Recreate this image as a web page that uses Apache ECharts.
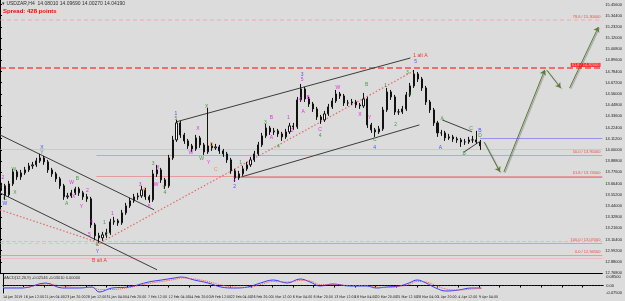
<!DOCTYPE html>
<html>
<head>
<meta charset="utf-8">
<script src="https://cdn.jsdelivr.net/npm/echarts@6/dist/echarts.min.js"></script>
<style>
  html, body { margin: 0; padding: 0; background: #dcdcdc; }
  #chart { width: 625px; height: 301px; }
</style>
</head>
<body>
<div id="chart"></div>
<script>
// time is counted in H4 bars; one label every 16 bars
const tickLabels = ['14 Jan 2019', '16 Jan 12:00', '21 Jan 04:00', '23 Jan 20:00', '28 Jan 12:00', '31 Jan 04:00',
  '4 Feb 20:00', '7 Feb 12:00', '12 Feb 04:00', '14 Feb 20:00', '19 Feb 12:00', '22 Feb 04:00',
  '26 Feb 20:00', '1 Mar 12:00', '6 Mar 04:00', '8 Mar 20:00', '13 Mar 12:00', '18 Mar 04:00',
  '20 Mar 20:00', '25 Mar 12:00', '28 Mar 04:00', '1 Apr 20:00', '4 Apr 12:00', '9 Apr 04:00'];

// price, one candle per 3 H4 bars
const candleOpen = [13.62, 13.64, 13.55, 13.66, 13.78, 13.73, 13.77, 13.80, 13.84, 13.85, 13.89, 13.92, 13.88, 13.80, 13.76, 13.71,
  13.64, 13.53, 13.54, 13.57, 13.61, 13.57, 13.53, 13.51, 13.25, 13.14, 13.12, 13.15, 13.17, 13.28, 13.29, 13.27,
  13.37, 13.44, 13.49, 13.53, 13.54, 13.60, 13.53, 13.50, 13.76, 13.80, 13.70, 13.64, 13.92, 14.10, 14.27, 14.15,
  14.09, 14.04, 14.01, 14.12, 14.05, 13.98, 14.04, 14.02, 14.03, 13.99, 13.96, 13.90, 13.79, 13.72, 13.76, 13.81,
  13.85, 13.90, 13.96, 14.05, 14.14, 14.22, 14.18, 14.19, 14.16, 14.13, 14.18, 14.24, 14.23, 14.50, 14.61, 14.51,
  14.46, 14.41, 14.33, 14.30, 14.36, 14.43, 14.49, 14.56, 14.54, 14.47, 14.47, 14.48, 14.45, 14.44, 14.51, 14.25,
  14.20, 14.18, 14.21, 14.40, 14.58, 14.53, 14.38, 14.38, 14.41, 14.55, 14.64, 14.76, 14.71, 14.62, 14.48, 14.40,
  14.27, 14.17, 14.17, 14.12, 14.13, 14.11, 14.10, 14.08, 14.08, 14.10, 14.10, 14.08];
const candleClose = [13.64, 13.55, 13.66, 13.78, 13.73, 13.77, 13.80, 13.84, 13.85, 13.89, 13.92, 13.88, 13.80, 13.76, 13.71, 13.64,
  13.53, 13.54, 13.57, 13.61, 13.57, 13.53, 13.51, 13.25, 13.14, 13.12, 13.15, 13.17, 13.28, 13.29, 13.27, 13.37,
  13.44, 13.49, 13.53, 13.54, 13.60, 13.53, 13.50, 13.76, 13.80, 13.70, 13.64, 13.92, 14.10, 14.27, 14.15, 14.09,
  14.04, 14.01, 14.12, 14.05, 13.98, 14.04, 14.02, 14.03, 13.99, 13.96, 13.90, 13.79, 13.72, 13.76, 13.81, 13.85,
  13.90, 13.96, 14.05, 14.14, 14.22, 14.18, 14.19, 14.16, 14.13, 14.18, 14.24, 14.23, 14.50, 14.61, 14.51, 14.46,
  14.41, 14.33, 14.30, 14.36, 14.43, 14.49, 14.56, 14.54, 14.47, 14.47, 14.48, 14.45, 14.44, 14.51, 14.25, 14.20,
  14.18, 14.21, 14.40, 14.58, 14.53, 14.38, 14.38, 14.41, 14.55, 14.64, 14.76, 14.71, 14.62, 14.48, 14.40, 14.27,
  14.17, 14.17, 14.12, 14.13, 14.11, 14.10, 14.08, 14.08, 14.10, 14.10, 14.08, 14.04];
const candleLow = [13.59, 13.50, 13.53, 13.64, 13.70, 13.70, 13.75, 13.78, 13.81, 13.83, 13.87, 13.85, 13.77, 13.73, 13.68, 13.61,
  13.50, 13.51, 13.52, 13.55, 13.54, 13.50, 13.48, 13.22, 13.10, 13.07, 13.09, 13.12, 13.15, 13.25, 13.24, 13.25,
  13.35, 13.42, 13.47, 13.50, 13.52, 13.50, 13.47, 13.48, 13.73, 13.67, 13.61, 13.62, 13.90, 14.08, 14.12, 14.06,
  14.01, 13.98, 13.99, 14.02, 13.95, 13.96, 13.99, 14.00, 13.96, 13.93, 13.87, 13.76, 13.68, 13.70, 13.74, 13.79,
  13.83, 13.88, 13.94, 14.03, 14.12, 14.15, 14.15, 14.13, 14.09, 14.11, 14.16, 14.20, 14.21, 14.48, 14.48, 14.43,
  14.38, 14.30, 14.26, 14.28, 14.34, 14.41, 14.47, 14.51, 14.44, 14.44, 14.45, 14.42, 14.41, 14.42, 14.22, 14.17,
  14.13, 14.16, 14.19, 14.38, 14.50, 14.35, 14.35, 14.36, 14.39, 14.53, 14.62, 14.68, 14.59, 14.45, 14.37, 14.24,
  14.13, 14.14, 14.09, 14.10, 14.08, 14.07, 14.03, 14.05, 14.06, 14.07, 14.06, 14.00];
const candleHigh = [13.67, 13.66, 13.69, 13.81, 13.80, 13.80, 13.83, 13.87, 13.88, 13.92, 13.96, 13.94, 13.90, 13.82, 13.78, 13.73,
  13.66, 13.57, 13.60, 13.63, 13.63, 13.59, 13.56, 13.53, 13.27, 13.17, 13.18, 13.21, 13.31, 13.33, 13.31, 13.40,
  13.47, 13.52, 13.56, 13.57, 13.64, 13.62, 13.55, 13.80, 13.85, 13.82, 13.72, 13.95, 14.14, 14.30, 14.29, 14.17,
  14.11, 14.06, 14.15, 14.14, 14.07, 14.42, 14.07, 14.06, 14.05, 14.01, 13.98, 13.92, 13.81, 13.79, 13.84, 13.88,
  13.93, 13.99, 14.08, 14.17, 14.26, 14.24, 14.22, 14.21, 14.18, 14.21, 14.27, 14.27, 14.53, 14.66, 14.63, 14.53,
  14.48, 14.43, 14.35, 14.39, 14.46, 14.52, 14.60, 14.58, 14.56, 14.50, 14.51, 14.50, 14.47, 14.57, 14.53, 14.27,
  14.22, 14.24, 14.43, 14.62, 14.60, 14.55, 14.41, 14.44, 14.58, 14.67, 14.80, 14.78, 14.73, 14.64, 14.50, 14.42,
  14.29, 14.20, 14.19, 14.16, 14.15, 14.13, 14.12, 14.11, 14.13, 14.14, 14.19, 14.10];

// MACD panel
const macdTime = [0, 15.3, 32.9, 45.9, 59.0, 68.9, 74.3, 84.2, 97.2, 112.6, 122.5, 132.5, 137.8, 147.8, 158.5, 168.5,
  178.4, 189.1, 199.1, 209.0, 219.8, 229.7, 237.4, 245.0, 255.0, 268.0, 281.0, 288.7, 296.3, 306.3, 313.9, 320.1,
  327.0, 334.6, 342.3, 352.2, 362.2, 369.8];
const macdMain = [-0.025, -0.025, 0.025, -0.025, -0.025, -0.015, -0.065, -0.025, -0.015, 0.035, 0.055, 0.075, 0.085, 0.055, 0.025, -0.015,
  -0.025, -0.015, 0.025, 0.055, 0.025, 0.065, 0.035, -0.005, 0.015, -0.005, -0.005, -0.025, -0.015, -0.005, 0.025, 0.055,
  0.025, -0.025, -0.055, -0.045, -0.025, -0.025];
const macdSignal = [-0.02, -0.02, 0.015, -0.005, -0.02, -0.02, -0.04, -0.04, -0.02, 0.02, 0.04, 0.06, 0.075, 0.065, 0.04, 0.005,
  -0.015, -0.02, 0.01, 0.04, 0.035, 0.05, 0.045, 0.01, 0.01, 0, 0, -0.015, -0.02, -0.01, 0.01, 0.04,
  0.035, 0, -0.035, -0.045, -0.035, -0.03];
const macdTicks = [0.085, 0, -0.075];
const macdTickText = ['0.08500', '0.00', '-0.07500'];

// fibonacci levels
const fibLevels = [15.30, 14.82, 13.95, 13.74, 13.07, 12.945];
const fibNames = ['78.6', '61.8', '50.0', '61.8', '100.0', '0.0'];
const fibFrom = [0, 0, 74.3, 74.3, 74.3, 0];

// other horizontal lines: price, from, to
const hLines = [[14.12, 369.8, 464], [14.01, 0, 464], [13.73, 180, 464], [13.09, 0, 464], [13.07, 0, 74.3], [12.915, 0, 464]];

const trendLines = [
  [[0, 14.15], [118.7, 13.40]],
  [[0, 13.57], [121.0, 12.80]],
  [[135.5, 14.28], [316.2, 14.92]],
  [[186.1, 13.73], [323.1, 14.25]],
  [[340.7, 14.30], [363.7, 14.18]],
  [[357.6, 13.98], [369.1, 14.08]]
];
const dottedLines = [
  [[0, 13.40], [74.3, 13.08]],
  [[74.3, 13.05], [320.1, 14.80]]
];
const projection = [
  [[372.9, 14.08], [385.1, 13.78]],
  [[388.2, 13.78], [419.6, 14.80]],
  [[421.1, 14.80], [431.9, 14.62]],
  [[438.8, 14.62], [461.0, 15.23]]
];

// wave marks: time, price, text, degree
const waveLabels = [
  [3.8, 13.46, 'W', 'blue'], [3.8, 13.51, 'C', 'green'], [2.3, 13.72, '2', 'pink'],
  [10.7, 13.80, 'W', 'green'], [11.5, 13.57, 'X', 'green'],
  [32.2, 14.02, 'X', 'blue'], [32.2, 13.97, 'Y', 'green'],
  [51.3, 13.46, 'A', 'green'], [55.1, 13.67, 'W', 'pink'], [59.7, 13.71, 'B', 'green'],
  [56.7, 13.53, 'X', 'pink'], [62.8, 13.43, 'Y', 'pink'], [67.4, 13.59, '2', 'pink'],
  [70.4, 13.28, '4', 'pink'], [68.9, 13.15, '5', 'pink'],
  [75.0, 13.05, 'C', 'green'], [75.0, 12.98, 'Y', 'blue'], [76.6, 12.89, 'B alt A', 'red'],
  [80.4, 13.27, '1', 'green'], [81.9, 13.15, '2', 'green'], [86.5, 13.36, '1', 'pink'],
  [108.0, 13.65, '3', 'pink'], [111.0, 13.60, '4', 'orange'], [114.9, 13.43, '5', 'pink'],
  [117.9, 13.86, '3', 'green'], [121.7, 13.82, 'X', 'pink'], [120.2, 13.65, 'W', 'pink'],
  [126.3, 13.62, 'Y', 'green'], [127.1, 13.57, '4', 'green'],
  [135.5, 14.36, '1', 'blue'], [135.5, 14.31, '5', 'green'],
  [147.0, 13.97, 'W', 'pink'], [152.4, 14.21, 'X', 'pink'], [159.3, 14.43, 'X', 'green'],
  [155.4, 13.91, 'W', 'green'], [160.8, 13.87, 'Y', 'pink'], [163.1, 14.05, 'B', 'orange'],
  [166.2, 13.80, 'C', 'orange'],
  [180.7, 13.70, '2', 'pink'], [180.7, 13.63, '2', 'blue'], [185.3, 13.87, '1', 'green'],
  [204.4, 14.27, '3', 'green'], [209.0, 14.32, 'B', 'pink'], [209.0, 14.12, 'A', 'pink'],
  [214.4, 14.03, '4', 'green'], [222.1, 14.32, '1', 'pink'], [225.1, 14.19, '2', 'pink'],
  [232.8, 14.75, '3', 'blue'], [232.8, 14.70, '5', 'pink'], [231.2, 14.50, '4', 'pink'],
  [237.4, 14.52, 'B', 'pink'], [233.5, 14.38, 'A', 'pink'], [246.6, 14.20, 'C', 'pink'],
  [246.6, 14.14, '4', 'green'], [260.3, 14.62, 'W', 'pink'], [277.2, 14.35, 'X', 'pink'],
  [282.5, 14.65, 'B', 'green'], [284.8, 14.32, 'Y', 'pink'], [288.7, 14.10, 'C', 'green'],
  [288.7, 14.02, '4', 'blue'], [297.1, 14.64, '1', 'green'], [304.7, 14.25, '2', 'green'],
  [313.9, 14.77, '3', 'green'], [315.5, 14.55, '4', 'green'], [320.1, 14.88, '5', 'blue'],
  [323.9, 14.94, '1 alt A', 'red'],
  [340.7, 14.31, 'A', 'green'], [339.2, 14.02, 'A', 'blue'], [357.6, 13.96, 'B', 'green'],
  [362.9, 14.21, 'C', 'green'], [369.8, 14.19, 'B', 'blue'], [369.8, 14.14, 'D', 'green']
];

const waveColors = { blue: '#2a2aff', green: '#1f8f1f', pink: '#e600e6', orange: '#ff7f00', red: '#ff0000' };
const font = 'Liberation Sans';
const narrow = '"Liberation Sans Narrow", "DejaVu Sans Condensed", "Liberation Sans"';

let chart = echarts.init(document.getElementById('chart'));

let candles = candleClose.map((c, i) => [i * 3 + 1, candleOpen[i], c, candleLow[i], candleHigh[i]]);

let fibStyles = [
  { color: '#f2a0a0', width: 1.5, type: [4, 3] },
  { color: '#ff0000', width: 2, type: [6, 3] },
  { color: '#f05a5a', width: 1, type: 'solid' },
  { color: '#f05a5a', width: 1, type: 'solid' },
  { color: '#f05a5a', width: 1, type: 'solid' },
  { color: '#f05a5a', width: 1, type: 'solid' }
];
let hStyles = [
  { color: '#4a4aff', width: 1 },
  { color: '#b8b8b8', width: 1 },
  { color: '#5a5aff', width: 1 },
  { color: '#b0b0b0', width: 1, type: 'dashed' },
  { color: '#f0a0a0', width: 1, type: [4, 3] },
  { color: '#f3a3a3', width: 1 }
];

let levelLines = [];
fibLevels.forEach((p, i) => {
  levelLines.push({ coords: [[fibFrom[i], p], [464, p]], lineStyle: fibStyles[i] });
});
hLines.forEach((h, i) => {
  levelLines.push({ coords: [[h[1], h[0]], [h[2], h[0]]], lineStyle: hStyles[i] });
});

let fibText = fibLevels.map((p, i) => ({
  value: [463, p],
  label: i === 1
    ? { backgroundColor: '#ff0000', color: '#ffe0e0', padding: [0, 1] }
    : { color: '#ff2020' },
  name: fibNames[i] + ' / ' + p.toFixed(5)
}));

let waveItems = waveLabels.map(w => ({
  value: [w[0], w[1]],
  name: w[2],
  label: { color: waveColors[w[3]] }
}));

let option = {
  backgroundColor: '#dcdcdc',
  animation: false,
  title: [
    { text: '▾ USDZAR,H4  14.08010 14.09690 14.00270 14.04190', left: 2, top: 1, padding: 0,
      textStyle: { fontSize: 5, fontWeight: 'normal', color: '#303030', fontFamily: font } },
    { text: 'Spread: 428 points', left: 3, top: 8, padding: 0,
      textStyle: { fontSize: 6, fontWeight: 'bold', color: '#ff0000', fontFamily: font } },
    { text: 'MACD(12,26,9) -0.02546 -0.03010 0.00000', left: 3, top: 276, padding: 0,
      textStyle: { fontSize: 4, fontWeight: 'normal', color: '#303030', fontFamily: font } }
  ],
  grid: [
    { left: 0, right: 19, top: 0, height: 273 },
    { left: 0, right: 19, top: 274, height: 19 }
  ],
  xAxis: [
    {
      type: 'value', gridIndex: 0, min: 0, max: 464,
      axisLine: { show: true, lineStyle: { color: '#000', width: 1 } },
      axisTick: { show: false }, axisLabel: { show: false }, splitLine: { show: false }
    },
    {
      type: 'value', gridIndex: 1, min: 0, max: 464, interval: 16,
      axisLine: { show: true, lineStyle: { color: '#000', width: 1 } },
      axisTick: { show: true, length: 2, lineStyle: { color: '#000' } },
      splitLine: { show: false },
      axisLabel: {
        fontSize: 3.6, color: '#202020', fontFamily: narrow, margin: 2, align: 'left',
        showMinLabel: true, showMaxLabel: false, hideOverlap: false,
        formatter: v => tickLabels[Math.round(v / 16)] || ''
      }
    }
  ],
  yAxis: [
    {
      type: 'value', gridIndex: 0, position: 'right', min: 12.768, max: 15.5, interval: 0.112,
      axisLine: { show: true, lineStyle: { color: '#000', width: 1 } },
      axisTick: { show: true, length: 2, lineStyle: { color: '#000' } },
      splitLine: { show: false },
      axisLabel: {
        fontSize: 4, color: '#202020', fontFamily: font, margin: 3, showMaxLabel: false,
        formatter: v => v.toFixed(5)
      }
    },
    {
      type: 'value', gridIndex: 1, position: 'right', min: -0.075, max: 0.115, interval: 0.005,
      axisLine: { show: true, lineStyle: { color: '#000', width: 1 } },
      axisTick: { show: false }, splitLine: { show: false },
      axisLabel: {
        fontSize: 4, color: '#202020', fontFamily: font, margin: 3, showMaxLabel: false,
        formatter: v => {
          let k = macdTicks.findIndex(t => Math.abs(t - v) < 1e-6);
          return k < 0 ? '' : macdTickText[k];
        }
      }
    }
  ],
  series: [
    {
      name: 'levels', type: 'lines', coordinateSystem: 'cartesian2d', xAxisIndex: 0, yAxisIndex: 0,
      silent: true, z: 1, symbol: ['none', 'none'], data: levelLines
    },
    {
      name: 'trend', type: 'lines', coordinateSystem: 'cartesian2d', xAxisIndex: 0, yAxisIndex: 0,
      silent: true, z: 2, symbol: ['none', 'none'],
      lineStyle: { color: '#3c3c3c', width: 1, opacity: 1 },
      data: trendLines.map(c => ({ coords: c }))
    },
    {
      name: 'dotted', type: 'lines', coordinateSystem: 'cartesian2d', xAxisIndex: 0, yAxisIndex: 0,
      silent: true, z: 2, symbol: ['none', 'none'],
      lineStyle: { color: '#e46a6a', width: 1.2, type: [1.5, 2], opacity: 1 },
      data: dottedLines.map(c => ({ coords: c }))
    },
    {
      name: 'price', type: 'candlestick', xAxisIndex: 0, yAxisIndex: 0, z: 3,
      barWidth: 1.6,
      encode: { x: 0, y: [1, 2, 3, 4] },
      itemStyle: { color: '#f4f4f4', color0: '#111', borderColor: '#111', borderColor0: '#111', borderWidth: 1 },
      data: candles
    },
    {
      name: 'projection', type: 'lines', coordinateSystem: 'cartesian2d', xAxisIndex: 0, yAxisIndex: 0,
      silent: true, z: 4, symbol: ['none', 'arrow'], symbolSize: 5,
      lineStyle: { color: '#5d7a3a', width: 1, opacity: 1, shadowColor: 'rgba(0,0,0,0.35)', shadowBlur: 1, shadowOffsetX: 1, shadowOffsetY: 1 },
      data: projection.map(c => ({ coords: c }))
    },
    {
      name: 'waves', type: 'scatter', xAxisIndex: 0, yAxisIndex: 0, z: 5, silent: true,
      symbolSize: 1, itemStyle: { color: 'transparent' },
      label: { show: true, position: 'inside', fontSize: 5, fontFamily: font, formatter: p => p.name },
      data: waveItems
    },
    {
      name: 'fibText', type: 'scatter', xAxisIndex: 0, yAxisIndex: 0, z: 5, silent: true,
      symbolSize: 1, itemStyle: { color: 'transparent' },
      label: { show: true, position: 'left', offset: [0, -3], distance: 0, fontSize: 4, fontFamily: font, formatter: p => p.name },
      data: fibText
    },
    {
      name: 'MACD', type: 'line', xAxisIndex: 1, yAxisIndex: 1, smooth: 0.4, symbol: 'none',
      lineStyle: { color: '#3a3aff', width: 1 },
      data: macdTime.map((t, i) => [t, macdMain[i]]),
      markLine: {
        silent: true, symbol: 'none', label: { show: false },
        lineStyle: { color: '#222', type: [1, 2], width: 1 },
        data: [{ yAxis: 0 }]
      }
    },
    {
      name: 'Signal', type: 'line', xAxisIndex: 1, yAxisIndex: 1, smooth: 0.4, symbol: 'none',
      lineStyle: { color: '#ff5050', width: 1, type: [1, 1] },
      data: macdTime.map((t, i) => [t, macdSignal[i]])
    }
  ]
};

chart.setOption(option);
</script>
</body>
</html>
